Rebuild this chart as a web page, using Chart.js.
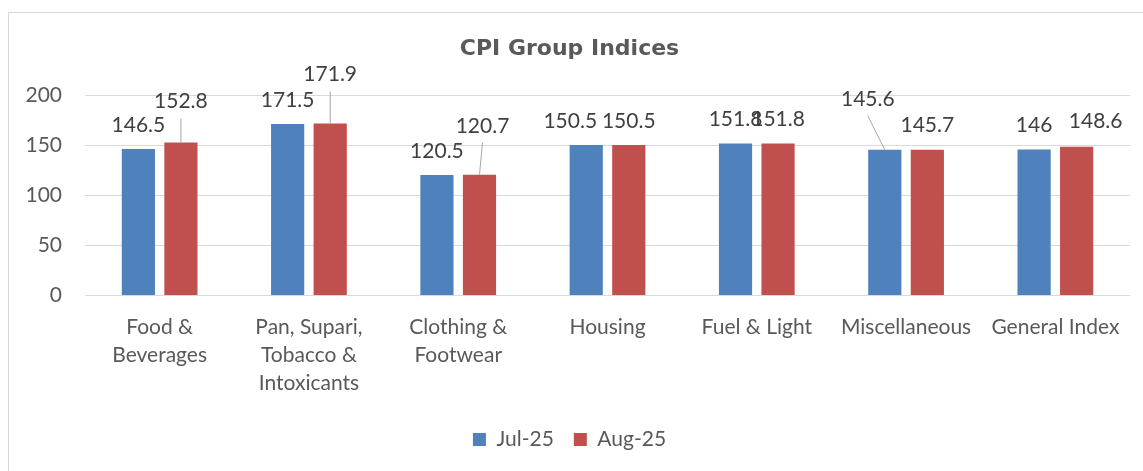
<!DOCTYPE html>
<html>
<head>
<meta charset="utf-8">
<script src="https://cdn.jsdelivr.net/npm/chart.js@4.4.1/dist/chart.umd.min.js"></script>
<style>
  html, body { margin: 0; padding: 0; background: #fff; overflow: hidden; }
  #box {
    position: absolute; left: 8px; top: 12px;
    width: 1160px; height: 470px;
    border: 1px solid #D9D9D9;
  }
  #grafico { display: block; }
</style>
</head>
<body>
<div id="box"><canvas id="grafico" width="1152" height="458"></canvas></div>
<script>
const categorias = [
    ['Food &', 'Beverages'],
    ['Pan, Supari,', 'Tobacco &', 'Intoxicants'],
    ['Clothing &', 'Footwear'],
    'Housing',
    'Fuel & Light',
    'Miscellaneous',
    'General Index'
];
const jul25 = [146.5, 171.5, 120.5, 150.5, 151.8, 145.6, 146];
const aug25 = [152.8, 171.9, 120.7, 150.5, 151.8, 145.7, 148.6];
const yTicks = [0, 50, 100, 150, 200];

// label nudges (dx, dy) from the default spot above each bar
const julNudge = [[0, 0], [0, 0], [0, 0], [-16, 0], [0, 0], [-17, -27], [0, 0]];
const augNudge = [[0, -17], [0, -25], [3, -25], [0, 0], [0, 0], [0, 0], [19, -2]];

const fonte = 'Lato, "Open Sans", sans-serif';

const rotulos = {
    id: 'rotulos',
    afterDatasetsDraw(chart) {
        const ctx = chart.ctx;
        const nudges = [julNudge, augNudge];
        ctx.save();
        ctx.font = '21px ' + fonte;
        ctx.textAlign = 'center';
        ctx.textBaseline = 'middle';
        chart.data.datasets.forEach((ds, d) => {
            const meta = chart.getDatasetMeta(d);
            meta.data.forEach((bar, i) => {
                const [dx, dy] = nudges[d][i];
                const lx = bar.x + dx;
                const ly = bar.y - 24 + dy;
                if (dy < -10) {
                    ctx.strokeStyle = '#A6A6A6';
                    ctx.lineWidth = 1;
                    ctx.beginPath();
                    ctx.moveTo(lx, ly + 17);
                    ctx.lineTo(bar.x, bar.y);
                    ctx.stroke();
                }
                ctx.fillStyle = '#404040';
                ctx.fillText(String(ds.data[i]), lx, ly);
            });
        });
        ctx.restore();
    }
};

const ctx = document.getElementById('grafico').getContext('2d');
new Chart(ctx, {
    type: 'bar',
    data: {
        labels: categorias,
        datasets: [
            { label: 'Jul-25', data: jul25, backgroundColor: '#4F81BD' },
            { label: 'Aug-25', data: aug25, backgroundColor: '#C0504D' }
        ]
    },
    options: {
        responsive: false,
        animation: false,
        categoryPercentage: 0.57,
        barPercentage: 0.78,
        layout: { padding: { left: 0, right: 31, top: 0, bottom: 11 } },
        plugins: {
            title: {
                display: true,
                text: 'CPI Group Indices',
                color: '#595959',
                font: { family: '"DejaVu Sans", Verdana, sans-serif', size: 22, weight: 'bold' },
                padding: { top: 23, bottom: 33 }
            },
            legend: {
                position: 'bottom',
                labels: {
                    color: '#595959',
                    boxWidth: 13,
                    boxHeight: 13,
                    padding: 20,
                    font: { family: fonte, size: 21 }
                }
            },
            tooltip: { enabled: false }
        },
        scales: {
            x: {
                grid: { display: false, drawTicks: false },
                border: { display: false },
                ticks: {
                    color: '#595959',
                    padding: 18,
                    autoSkip: false,
                    maxRotation: 0,
                    font: { family: fonte, size: 21, lineHeight: '28px' }
                },
                afterFit(scale) { scale.height = 113.5; }
            },
            y: {
                min: 0,
                max: 200,
                afterBuildTicks(scale) { scale.ticks = yTicks.map(v => ({ value: v })); },
                grid: { color: '#D9D9D9', drawTicks: false },
                border: { display: false },
                ticks: {
                    color: '#595959',
                    padding: 23,
                    font: { family: fonte, size: 21 }
                },
                afterFit(scale) { scale.width = 76; }
            }
        }
    },
    plugins: [rotulos]
});
</script>
</body>
</html>
